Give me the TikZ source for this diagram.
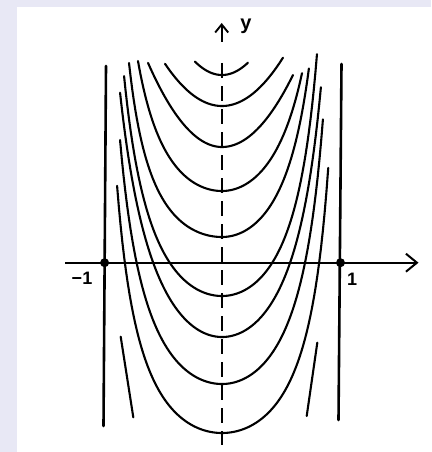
\documentclass[tikz,border=0pt]{standalone}
\usepackage{fontspec}
\setsansfont{Liberation Sans}
\usetikzlibrary{arrows.meta}
\definecolor{bgcol}{RGB}{232,232,245}
\tikzset{
  curve/.style={line width=2.1pt, line cap=round, line join=round},
  axisline/.style={line width=2.1pt},
  asym/.style={line width=2.6pt, line cap=round},
  dashaxis/.style={line width=1.8pt, dash pattern=on 15pt off 8pt},
  lbl/.style={font=\sffamily\bfseries\fontsize{18}{20}\selectfont, inner sep=0pt}
}
% #1 vertex y, #2 left extent, #3 kL, #4 sL, #5 right extent, #6 kR, #7 sR
\newcommand\famcurve[7]{%
  \draw[curve] plot[domain=-#2:0, samples=60] ({222+118*\x},{#1-#3*(\x)^2/(1-#4*(\x)^2)})
    -- plot[domain=0:#5, samples=60] ({222+118*\x},{#1-#6*(\x)^2/(1-#7*(\x)^2)});
}
\begin{document}
\begin{tikzpicture}[x=1pt,y=-1pt]
\fill[bgcol] (0,0) rectangle (431,452);
\fill[white] (17,7) rectangle (431,452);
\useasboundingbox (0,0) rectangle (431,452);

% axes
\coordinate (xs) at (65,262.7);
\coordinate (xe) at (418.5,262.7);
\coordinate (ys) at (221.7,63);
\coordinate (ye) at (221.7,445);
\coordinate (ya) at (221.7,42);
\coordinate (yt) at (221.7,23);
\coordinate (pm) at (104.6,262.7);
\coordinate (pp) at (340.5,262.7);

\draw[axisline, -{Straight Barb[length=11pt,width=18pt,line width=2pt]}] (xs) -- (xe);
\draw[dashaxis] (ys) -- (ye);
\draw[line width=1.9pt, -{Straight Barb[length=8pt,width=13pt,line width=1.9pt]}] (ya) -- (yt);

% vertical asymptotes
\coordinate (la) at (106,66);
\coordinate (lb) at (103.5,426);
\coordinate (ra) at (341.5,64);
\coordinate (rb) at (338.5,420);
\draw[asym] (la) -- (lb);
\draw[asym] (ra) -- (rb);

\fill (pm) circle (4.5pt);
\fill (pp) circle (4.5pt);

% family of curves
\famcurve{75}{0.229}{255}{0}{0.22}{255}{0}
\famcurve{106}{0.483}{181}{0}{0.517}{181}{0}
\famcurve{147}{0.627}{214}{0}{0.602}{199}{0}
\famcurve{191}{0.712}{139.3}{0.901}{0.678}{161.5}{0.805}
\famcurve{237}{0.788}{114.4}{0.953}{0.737}{157.9}{0.907}
\famcurve{296}{0.83}{143.3}{0.8}{0.805}{153.3}{0.91}
\famcurve{337}{0.864}{170.9}{0.64}{0.839}{167}{0.755}
\famcurve{384}{0.864}{137.6}{0.7756}{0.856}{146.4}{0.814}
\famcurve{433}{0.889}{115}{0.8}{0.901}{115}{0.8}

% short outer branches
\coordinate (sla) at (120.7,336.7);
\coordinate (slb) at (133.3,417.3);
\coordinate (sra) at (317.3,342.7);
\coordinate (srb) at (306.7,416);
\draw[curve] (sla) -- (slb);
\draw[curve] (sra) -- (srb);

% labels
\node[lbl, font=\sffamily\bfseries\fontsize{20}{22}\selectfont] (ylab) at (246,26) {y};
\node[lbl] (mlab) at (82,278) {−1};
\node[lbl] (plab) at (352,279) {1};
\end{tikzpicture}
\end{document}
